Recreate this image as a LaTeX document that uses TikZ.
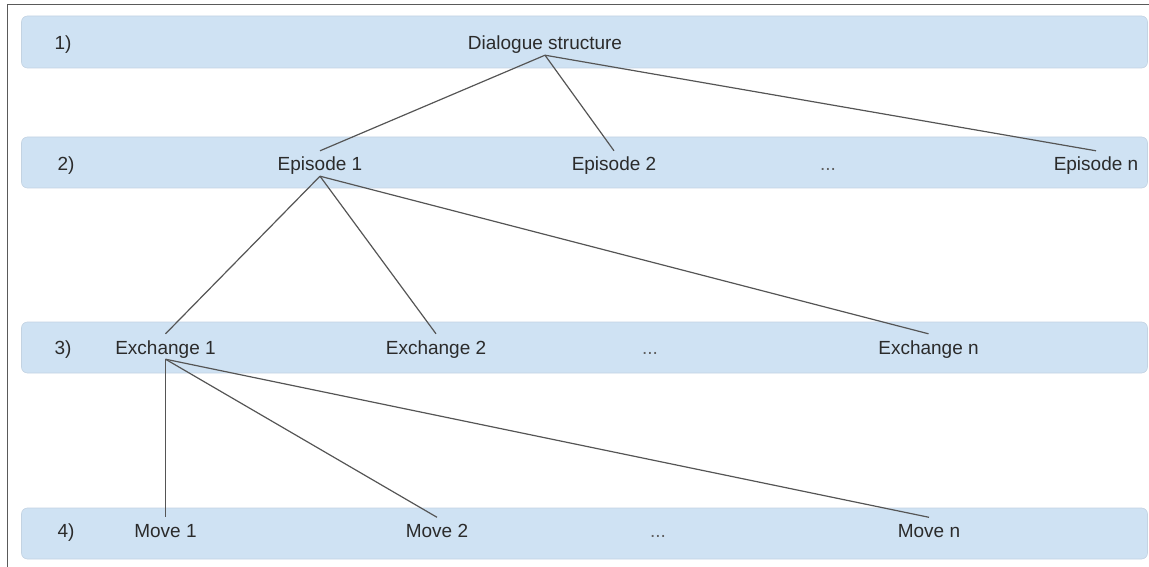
\documentclass[tikz,border=0pt]{standalone}
\usepackage{fontspec}
\setmainfont{Liberation Sans}
\definecolor{bandblue}{HTML}{CFE2F3}
\definecolor{bandedge}{HTML}{C3D3E2}
\definecolor{txt}{HTML}{2B2B2B}
\definecolor{conn}{HTML}{555555}
\definecolor{frame}{HTML}{5A5A5A}
\tikzset{
  band/.style={fill=bandblue, draw=bandedge, line width=0.6pt, rounded corners=6pt},
  lbl/.style={inner sep=0pt, anchor=base, text height=20pt, text depth=5pt, text=txt, font=\fontsize{19}{22}\selectfont},
  dots/.style={lbl, text=txt!75},
  conn/.style={draw=conn, line width=1.2pt}
}
\begin{document}
\begin{tikzpicture}[x=1pt,y=-1pt]
\useasboundingbox (0,0) rectangle (1149,567);
% frame
\draw[frame, line width=1.8pt] (7.5,567) -- (7.5,4.5) -- (1149,4.5);
% bands
\path[band] (21.5,16) rectangle (1147.5,68);
\path[band] (21.5,137) rectangle (1147.5,188);
\path[band] (21.5,322) rectangle (1147.5,373);
\path[band] (21.5,508) rectangle (1147.5,559);
% row labels
\node[lbl] (r1) at (63,50) {1)};
\node[lbl] (r2) at (66,171) {2)};
\node[lbl] (r3) at (63,354) {3)};
\node[lbl] (r4) at (66,537.5) {4)};
% nodes
\node[lbl] (ds) at (545,50) {Dialogue structure};
\node[lbl] (ep1) at (320,171) {Episode 1};
\node[lbl] (ep2) at (614,171) {Episode 2};
\node[dots] (epd) at (828,171) {...};
\node[lbl] (epn) at (1096,171) {Episode n};
\node[lbl] (ex1) at (165.5,354) {Exchange 1};
\node[lbl] (ex2) at (436,354) {Exchange 2};
\node[dots] (exd) at (650,354) {...};
\node[lbl] (exn) at (928.5,354) {Exchange n};
\node[lbl] (mv1) at (165.5,537.5) {Move 1};
\node[lbl] (mv2) at (437,537.5) {Move 2};
\node[dots] (mvd) at (658,537.5) {...};
\node[lbl] (mvn) at (929,537.5) {Move n};
% connectors
\draw[conn] (ds.south) -- (ep1.north);
\draw[conn] (ds.south) -- (ep2.north);
\draw[conn] (ds.south) -- (epn.north);
\draw[conn] (ep1.south) -- (ex1.north);
\draw[conn] (ep1.south) -- (ex2.north);
\draw[conn] (ep1.south) -- (exn.north);
\draw[conn] (ex1.south) -- (mv1.north);
\draw[conn] (ex1.south) -- (mv2.north);
\draw[conn] (ex1.south) -- (mvn.north);
\end{tikzpicture}
\end{document}
